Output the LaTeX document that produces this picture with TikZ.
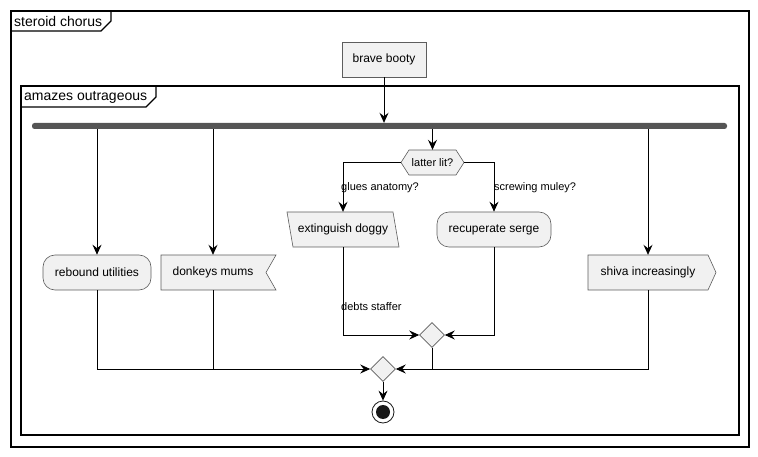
\documentclass[tikz,border=0pt]{standalone}
\usepackage{fontspec}
\setmainfont{Liberation Sans}
\usetikzlibrary{arrows.meta,shapes.geometric,calc}
\definecolor{boxfill}{HTML}{F1F1F1}
\definecolor{boxline}{HTML}{181818}
\definecolor{barfill}{HTML}{555555}
\tikzset{
  every node/.style={font=\fontsize{12}{14}\selectfont},
  arr/.style={-{Stealth[length=10pt,width=9pt,inset=3.5pt]}, line width=0.8pt},
  flow/.style={line width=0.8pt},
  frameline/.style={line width=1.3pt},
  shapeline/.style={draw=boxline!70, fill=boxfill, line width=0.6pt},
  actbox/.style={shapeline, rectangle, minimum height=35pt, inner sep=0pt},
  roundbox/.style={actbox, rounded corners=12pt},
  textonly/.style={inner sep=0pt, minimum height=35pt},
  merge/.style={shapeline, diamond, minimum width=25pt, minimum height=25pt, inner sep=0pt},
  edgelabel/.style={font=\fontsize{11}{13}\selectfont, anchor=west, inner sep=0pt},
  frametitle/.style={font=\fontsize{14}{16}\selectfont, anchor=west, inner sep=0pt},
}
\begin{document}
\begin{tikzpicture}[x=1pt,y=-1pt]
\useasboundingbox (0,0) rectangle (758,457);

% outer frame
\draw[frameline] (11,11) rectangle (749,447);
\draw[frameline] (11,31) -- (101,31) -- (111,21) -- (111,11);
\node[frametitle] (outertitle) at (14,21) {steroid chorus};

% inner frame
\draw[frameline] (21,86) rectangle (739,435);
\draw[frameline] (21,107) -- (146,107) -- (156,97) -- (156,86);
\node[frametitle] (innertitle) at (24,97) {amazes outrageous};

% start activity and fork bar
\node[actbox, minimum width=84pt] (brave) at (384,59.5) {brave booty};
\node[fill=barfill, rounded corners=2.5pt, minimum width=695pt, minimum height=6pt, inner sep=0pt] (bar) at (379.5,126) {};

% parallel branches
\node[roundbox, minimum width=108pt] (reb) at (97,272.5) {rebound utilities};

\filldraw[shapeline] (161,255) -- (276,255) -- (266,272.5) -- (276,290) -- (161,290) -- cycle;
\node[textonly, minimum width=104pt] (dk) at (213,272.5) {donkeys mums};

\filldraw[shapeline] (409,150) -- (456,150) -- (464,162.5) -- (456,175) -- (409,175) -- (401,162.5) -- cycle;
\node[textonly, minimum width=63pt, minimum height=25pt, font=\fontsize{11}{13}\selectfont] (hx) at (432.5,162.5) {latter lit?};

\filldraw[shapeline] (287,212) -- (393,212) -- (399,247) -- (293,247) -- cycle;
\node[textonly, minimum width=106pt] (ext) at (343,229.5) {extinguish doggy};

\node[roundbox, minimum width=114pt] (rec) at (494,229.5) {recuperate serge};

\filldraw[shapeline] (588,255) -- (708,255) -- (716,272.5) -- (708,290) -- (588,290) -- cycle;
\node[textonly, minimum width=120pt] (shiva) at (648,272.5) {shiva increasingly};

% merge points and stop
\node[merge] (m1) at (432,335) {};
\node[merge] (m2) at (383,369) {};
\node[circle, draw=boxline, line width=0.8pt, minimum size=22pt, inner sep=0pt] (stop) at (383,412) {};
\fill[boxline] (stop) circle (7pt);

% connectors
\draw[arr] (brave.south) -- (brave.south |- bar.north);
\draw[arr] (reb.north |- bar.south) -- (reb.north);
\draw[arr] (dk.north |- bar.south) -- (dk.north);
\draw[arr] (hx.north |- bar.south) -- (hx.north);
\draw[arr] (shiva.north |- bar.south) -- (shiva.north);

\draw[arr] (hx.west) -| (ext.north);
\draw[arr] (hx.east) -| (rec.north);
\node[edgelabel] (lglues) at (341,188) {glues anatomy?};
\node[edgelabel] (lscrew) at (494,188) {screwing muley?};

\draw[arr] (ext.south) |- (m1.west);
\draw[arr] (rec.south) |- (m1.east);
\node[edgelabel] (ldebts) at (341,307) {debts staffer};

\draw[arr] (reb.south) |- (m2.west);
\draw[flow] (dk.south) -- (dk.south |- m2);
\draw[arr] (shiva.south) |- (m2.east);
\draw[flow] (m1.south) -- (m1.south |- m2);
\draw[arr] (m2.south) -- (stop.north);
\end{tikzpicture}
\end{document}
